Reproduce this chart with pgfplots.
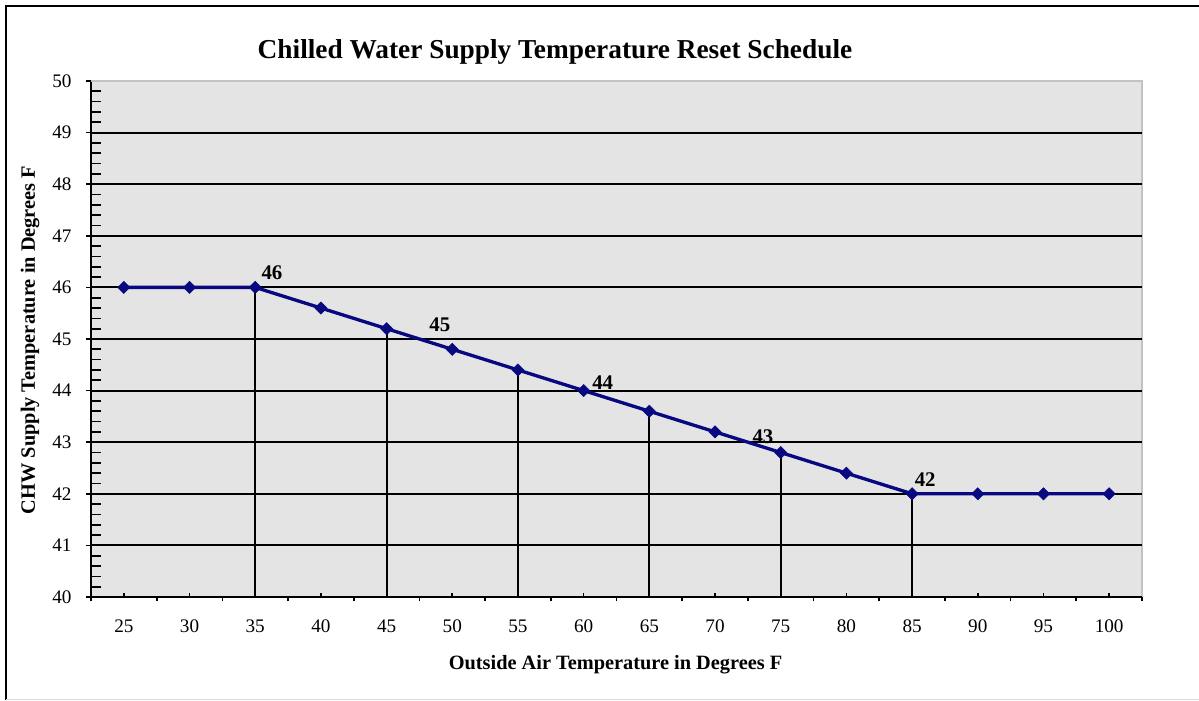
\documentclass[border=0pt]{standalone}
\usepackage{fontspec}
\setmainfont{Liberation Serif}
\usepackage{pgfplots}
\pgfplotsset{compat=1.18}
\definecolor{navyline}{RGB}{8,8,128}
\definecolor{plotbg}{RGB}{228,228,228}
\definecolor{plotedge}{RGB}{195,195,195}
\begin{document}
\begin{tikzpicture}[x=1pt,y=1pt]
\path[use as bounding box] (0,0) rectangle (719.4,420);
\draw[line width=1.2pt,black] (3.6,0) -- (3.6,416.4) -- (719.4,416.4);
\draw[line width=0.6pt,black!15] (3.6,0.6) -- (719.4,0.6);
\begin{axis}[
  at={(54.6pt,61.8pt)}, anchor=south west,
  scale only axis, width=630.6pt, height=309.6pt,
  xmin=-0.5, xmax=15.5, ymin=40, ymax=50,
  axis x line*=bottom, axis y line*=left,
  axis line style={-, line width=1.1pt, black},
  axis background/.style={fill=plotbg, draw=plotedge, line width=0.8pt},
  xtick={0,...,15},
  xticklabels={25,30,35,40,45,50,55,60,65,70,75,80,85,90,95,100},
  ytick={40,...,50},
  tick style={black, line width=1pt},
  xtick align=inside,
  ytick align=center,
  xtick style={/pgfplots/major tick length=2.6pt},
  ytick style={/pgfplots/major tick length=6pt},
  extra x ticks={-0.5,0.5,1.5,2.5,3.5,4.5,5.5,6.5,7.5,8.5,9.5,10.5,11.5,12.5,13.5,14.5,15.5},
  extra x tick labels={},
  extra x tick style={/pgfplots/xtick align=outside, /pgfplots/major tick length=2.6pt},
  extra y ticks={40.2,40.4,40.6,40.8,41.2,41.4,41.6,41.8,42.2,42.4,42.6,42.8,43.2,43.4,43.6,43.8,44.2,44.4,44.6,44.8,45.2,45.4,45.6,45.8,46.2,46.4,46.6,46.8,47.2,47.4,47.6,47.8,48.2,48.4,48.6,48.8,49.2,49.4,49.6,49.8},
  extra y tick labels={},
  extra y tick style={/pgfplots/ytick align=inside, /pgfplots/major tick length=2.6pt, /pgfplots/grid=none},
  ymajorgrids=true,
  major grid style={black, line width=1.1pt},
  /pgf/number format/assume math mode=true,
  ticklabel style={font=\fontsize{11.5}{13}\selectfont},
  xticklabel style={yshift=-10pt},
  yticklabel style={xshift=-6pt},
  clip=false,
]
\addplot[ycomb, black, line width=1.1pt, no marks] coordinates {
  (2,46) (4,45.2) (6,44.4) (8,43.6) (10,42.8) (12,42)
};
\draw[plotedge, line width=1.2pt] (axis cs:-0.5,50) -- (axis cs:15.5,50);
\addplot[navyline, line width=2pt, mark=square*, mark size=2.6pt, mark options={rotate=45, fill=navyline, draw=navyline, line width=0.3pt}] coordinates {
  (0,46) (1,46) (2,46) (3,45.6) (4,45.2) (5,44.8) (6,44.4) (7,44) (8,43.6) (9,43.2) (10,42.8) (11,42.4) (12,42) (13,42) (14,42) (15,42)
};
\node[font=\bfseries\fontsize{12.5}{14}\selectfont] at (axis cs:2.255,46.28) {46};
\node[font=\bfseries\fontsize{12.5}{14}\selectfont] at (axis cs:4.81,45.27) {45};
\node[font=\bfseries\fontsize{12.5}{14}\selectfont] at (axis cs:7.29,44.15) {44};
\node[font=\bfseries\fontsize{12.5}{14}\selectfont] at (axis cs:9.73,43.10) {43};
\node[font=\bfseries\fontsize{12.5}{14}\selectfont] at (axis cs:12.20,42.27) {42};
\end{axis}
\node[font=\bfseries\fontsize{16.4}{19}\selectfont] at (333,388.8) {Chilled Water Supply Temperature Reset Schedule};
\node[font=\bfseries\fontsize{12.2}{14}\selectfont] at (369.3,21) {Outside Air Temperature in Degrees F};
\node[font=\bfseries\fontsize{12.2}{14}\selectfont, rotate=90] at (18,216) {CHW Supply Temperature in Degrees F};
\end{tikzpicture}
\end{document}
